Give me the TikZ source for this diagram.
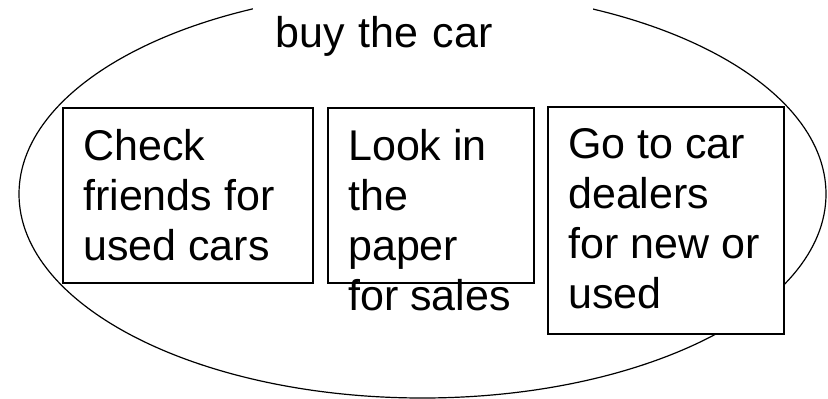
\documentclass[tikz,border=0pt]{standalone}
\usepackage{fontspec}
\setmainfont{Liberation Sans}

\begin{document}
\begin{tikzpicture}[x=1pt,y=-1pt,
    box/.style={draw,fill=white,line width=1.2pt,anchor=north west,inner sep=0pt,outer sep=0pt},
    words/.style={anchor=north west,inner sep=0pt,align=left,font=\fontsize{43}{50}\selectfont}]
  \useasboundingbox (0,0) rectangle (828,399);
  \draw[line width=1.2pt] (422.5,194) ellipse [x radius=403.5, y radius=204];
  \node[fill=white,anchor=base west,inner xsep=22pt,inner ysep=22pt,text width=296pt,
        align=left,font=\fontsize{43}{50}\selectfont] (goal) at (253,47) {buy the car};
  % the three ways to go about it
  \node[box,minimum width=250pt,minimum height=175pt] (friends) at (63,108) {};
  \node[box,minimum width=206pt,minimum height=175pt] (paper) at (328,108) {};
  \node[box,minimum width=236pt,minimum height=227pt] (dealers) at (548,107) {};
  \node[words] (friendstext) at (83,128.7) {Check\\friends for\\used cars};
  \node[words] (papertext) at (348,128.7) {Look in\\the\\paper\\for sales};
  \node[words] (dealerstext) at (568,128.7) {Go to car\\dealers\\for new or\\used};
\end{tikzpicture}
\end{document}
